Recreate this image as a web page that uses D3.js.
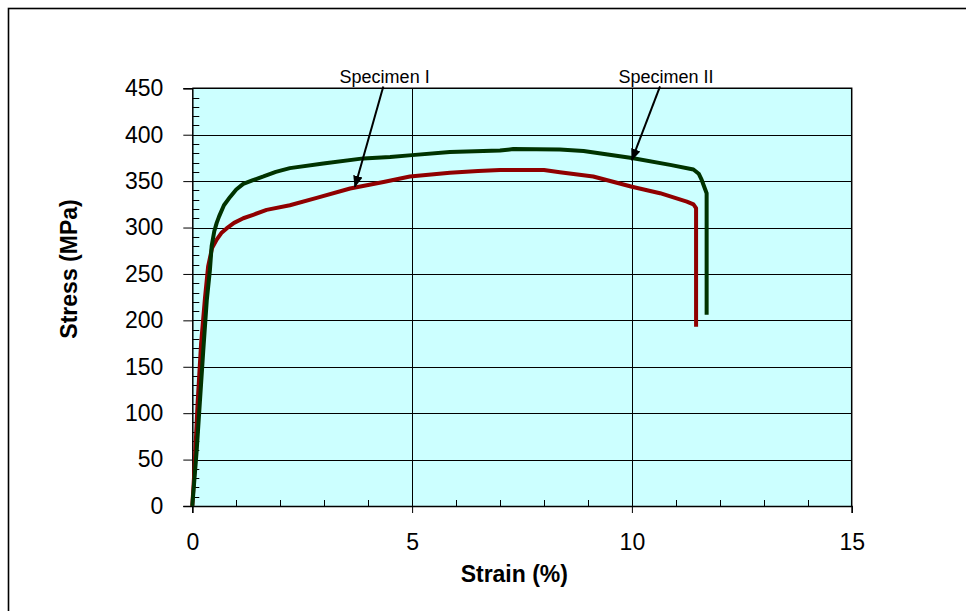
<!DOCTYPE html>
<html><head><meta charset="utf-8">
<script src="https://cdn.jsdelivr.net/npm/d3@7"></script>
<style>
html,body{margin:0;padding:0;background:#fff;}
svg{display:block;font-family:"Liberation Sans",Arial,sans-serif;}
</style></head>
<body>
<script>
// Specimen I (red) — strain (%) and stress (MPa)
const specimen1Strain = [0, 0.05, 0.12, 0.2, 0.29, 0.36, 0.45, 0.555, 0.66, 0.78, 0.95, 1.16, 1.4, 1.69, 2.22, 2.83, 3.59, 4.35, 4.95, 5.86, 6.5, 7.0, 8.0, 8.36, 9.12, 10.0, 10.64, 11.25, 11.4, 11.46, 11.46];
const specimen1Stress = [0, 40, 110, 175, 225, 258, 278, 287, 294, 299, 305, 310, 314, 319, 324, 332, 342, 349, 355, 359, 361, 362, 362, 359.5, 355, 344, 337, 328, 325, 321, 193];
// Specimen II (green)
const specimen2Strain = [0, 0.1, 0.175, 0.25, 0.33, 0.4, 0.44, 0.5, 0.555, 0.61, 0.72, 0.86, 1.0, 1.16, 1.38, 1.62, 1.9, 2.22, 2.98, 3.89, 4.5, 5.0, 5.86, 7.0, 7.3, 8.36, 8.9, 10.0, 10.87, 11.4, 11.52, 11.59, 11.7, 11.7];
const specimen2Stress = [0, 60, 114, 168, 222, 254, 280, 296, 305, 312, 324, 333, 341, 347, 351, 355, 360, 364, 369, 374.5, 376, 378, 381.5, 383, 384.5, 384, 382.5, 375, 367.5, 362.5, 358, 351, 337, 206];
// Axes
const xTicks = [0, 5, 10, 15];
const yTicks = [0, 50, 100, 150, 200, 250, 300, 350, 400, 450];
// Annotations: label, text position, arrow start, arrow tip (data units)
const annotLabels = ["Specimen I", "Specimen II"];
const annotText = [[4.375, 460], [10.775, 460]];
const annotFrom = [[4.345, 452], [10.64, 452]];
const annotTo = [[3.70, 344], [10.0, 373]];

const W = 966, H = 611;
const svg = d3.select("body").append("svg").attr("width", W).attr("height", H);

// outer chart border (only left/top visible)
svg.append("rect").attr("x", 8.5).attr("y", 8.5).attr("width", 1000).attr("height", 1000)
  .attr("fill", "none").attr("stroke", "#000").attr("stroke-width", 1.6);

const x = d3.scaleLinear().domain([0, 15]).range([192.3, 851.7]);
const y = d3.scaleLinear().domain([0, 450]).range([506, 88.3]);

// plot area
svg.append("rect").attr("x", x(0)).attr("y", y(450)).attr("width", x(15) - x(0)).attr("height", y(0) - y(450))
  .attr("fill", "#CCFFFF");

// grid
const g = svg.append("g");
g.selectAll(".hg").data(yTicks.filter(d => d > 0)).enter().append("line")
  .attr("x1", x(0)).attr("x2", x(15)).attr("y1", d => Math.round(y(d)) + 0.5).attr("y2", d => Math.round(y(d)) + 0.5)
  .attr("stroke", "#000").attr("stroke-width", 1);
g.selectAll(".vg").data(xTicks.filter(d => d > 0 && d < 15)).enter().append("line")
  .attr("y1", y(0)).attr("y2", y(450)).attr("x1", d => Math.round(x(d)) + 0.5).attr("x2", d => Math.round(x(d)) + 0.5)
  .attr("stroke", "#000").attr("stroke-width", 1);

// plot border top/right
svg.append("path").attr("d", `M${x(0)},${y(450)}H${x(15)}V${y(0)}`).attr("fill", "none").attr("stroke", "#000").attr("stroke-width", 1.5);

// minor ticks
const yMinor = d3.range(0, 451, 10).filter(v => v % 50 !== 0);
svg.selectAll(".ym").data(yMinor).enter().append("line")
  .attr("x1", x(0)).attr("x2", x(0) + 7).attr("y1", d => Math.round(y(d)) + 0.5).attr("y2", d => Math.round(y(d)) + 0.5)
  .attr("stroke", "#000").attr("stroke-width", 1);
const xMinor = d3.range(0, 15.01, 1).filter(v => v % 5 !== 0);
svg.selectAll(".xm").data(xMinor).enter().append("line")
  .attr("y1", y(0)).attr("y2", y(0) - 6).attr("x1", d => Math.round(x(d)) + 0.5).attr("x2", d => Math.round(x(d)) + 0.5)
  .attr("stroke", "#000").attr("stroke-width", 1);

// axes
const xAxis = d3.axisBottom(x).tickValues(xTicks).tickSize(7).tickPadding(20).tickFormat(d3.format("d"));
const yAxis = d3.axisLeft(y).tickValues(yTicks).tickSize(9).tickPadding(20).tickFormat(d3.format("d"));
const xg = svg.append("g").attr("transform", `translate(0,${y(0)})`).call(xAxis);
const yg = svg.append("g").attr("transform", `translate(${x(0)},0)`).call(yAxis);
[xg, yg].forEach(a => {
  a.select(".domain").attr("stroke", "#000").attr("stroke-width", 1.5);
  a.selectAll(".tick line").attr("stroke", "#000").attr("stroke-width", 1);
  a.selectAll("text").attr("font-size", 23).attr("fill", "#000").attr("font-family", "Liberation Sans, Arial, sans-serif");
});
xg.selectAll("text").attr("dy", null).attr("y", 44).attr("dominant-baseline", null);

// curves
const line = d3.line().x(d => x(d[0])).y(d => y(d[1])).curve(d3.curveMonotoneX);
const lineLin = d3.line().x(d => x(d[0])).y(d => y(d[1]));
const s1 = specimen1Strain.map((v, i) => [v, specimen1Stress[i]]);
const s2 = specimen2Strain.map((v, i) => [v, specimen2Stress[i]]);
svg.append("path").datum(s1).attr("d", lineLin).attr("fill", "none").attr("stroke", "#8f0000").attr("stroke-width", 4).attr("stroke-linejoin", "round");
svg.append("path").datum(s2).attr("d", lineLin).attr("fill", "none").attr("stroke", "#003300").attr("stroke-width", 4).attr("stroke-linejoin", "round");

// axis titles
svg.append("text").attr("x", 514.3).attr("y", 581.7).attr("text-anchor", "middle")
  .attr("font-size", 23).attr("font-weight", "bold").text("Strain (%)");
svg.append("text").attr("transform", `translate(77,269) rotate(-90)`).attr("text-anchor", "middle")
  .attr("font-size", 23).attr("font-weight", "bold").text("Stress (MPa)");

// annotations
const defs = svg.append("defs");
defs.append("marker").attr("id", "arr").attr("viewBox", "0 0 10 10").attr("refX", 9).attr("refY", 5)
  .attr("markerWidth", 6).attr("markerHeight", 6).attr("markerUnits", "strokeWidth").attr("orient", "auto")
  .append("path").attr("d", "M0,1 L10,5 L0,9 z").attr("fill", "#000");
annotLabels.forEach((lab, i) => {
  svg.append("text").attr("x", x(annotText[i][0])).attr("y", y(annotText[i][1]) + 3.5).attr("text-anchor", "middle")
    .attr("font-size", 18).text(lab);
  svg.append("line").attr("x1", x(annotFrom[i][0])).attr("y1", y(annotFrom[i][1]))
    .attr("x2", x(annotTo[i][0])).attr("y2", y(annotTo[i][1]))
    .attr("stroke", "#000").attr("stroke-width", 2).attr("marker-end", "url(#arr)");
});
</script>
</body></html>
